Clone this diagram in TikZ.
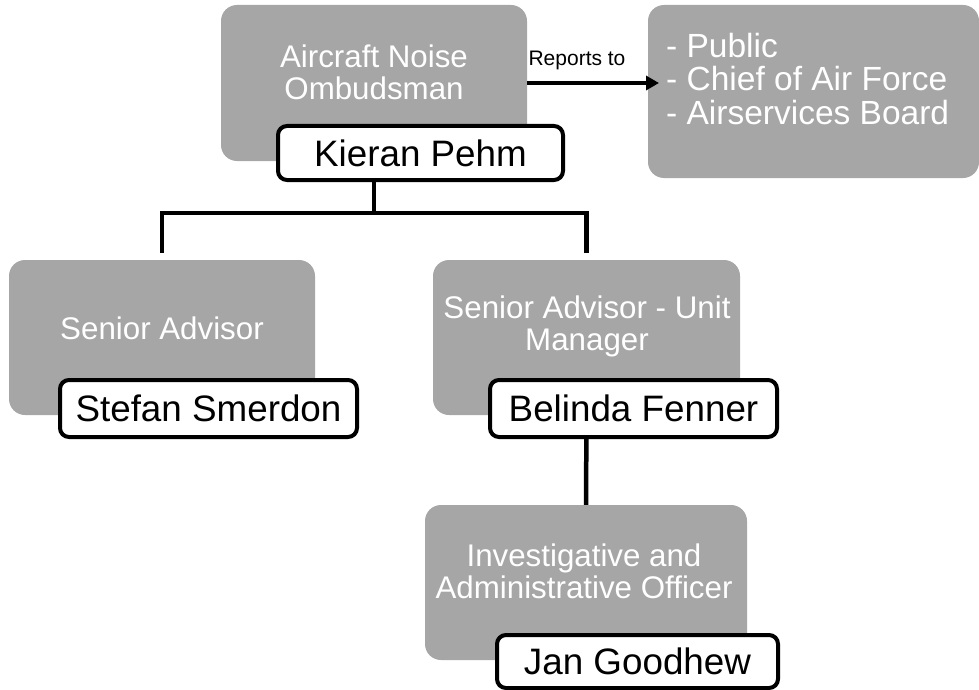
\documentclass[tikz,border=0pt]{standalone}
\usepackage{fontspec}
\setmainfont{Liberation Sans}
\usetikzlibrary{arrows.meta}
\definecolor{boxgray}{HTML}{A6A6A6}
\tikzset{
  gbox/.style={fill=boxgray, draw=none, rounded corners=16pt, inner sep=0pt},
  gtext/.style={text=white, align=center, font=\fontsize{31.3}{32}\selectfont, inner sep=0pt},
  namebox/.style={fill=white, draw=black, line width=4pt, rounded corners=9pt, inner sep=0pt, font=\fontsize{36.8}{38}\selectfont},
  tree/.style={line width=4.5pt, draw=black},
}
\begin{document}
\begin{tikzpicture}[x=1pt,y=-1pt]
\useasboundingbox (0,0) rectangle (979,690);
% gray boxes
\node[gbox, minimum width=306pt, minimum height=156pt] (omb) at (374,83) {};
\node[gbox, minimum width=331pt, minimum height=173pt] (rep) at (813.5,91.5) {};
\node[gbox, minimum width=306pt, minimum height=155pt] (sa) at (162,337.5) {};
\node[gbox, minimum width=307pt, minimum height=155pt] (um) at (586.5,337.5) {};
\node[gbox, minimum width=322pt, minimum height=155pt] (inv) at (586,582.5) {};
% tree connectors (under name boxes)
\coordinate (junc) at (374,213);
\draw[tree] (omb.south) -- (junc);
\draw[tree, shorten >=7pt] (junc) -| (sa.north);
\draw[tree, shorten >=7pt] (junc) -| (um.north);
\draw[tree] (um.south) -- (inv.north);
% reports to
\coordinate (tip) at (659,83);
\draw[line width=4pt, -{Triangle[length=13pt,width=14pt]}] (omb.east) -- (tip);
\node[inner sep=0pt, font=\fontsize{21}{22}\selectfont] (lbl) at (577,60) {Reports to};
% texts
\node[gtext] (ombt) at (374,72) {Aircraft Noise\\Ombudsman};
\node[gtext] (sat) at (162,328) {Senior Advisor};
\node[gtext] (umt) at (587,326) {Senior Advisor - Unit\\Manager};
\node[gtext] (invt) at (584,571) {Investigative and\\Administrative Officer};
\node[text=white, align=left, anchor=west, inner sep=0pt, font=\fontsize{33.5}{33.5}\selectfont] (rept) at (666,79) {- Public\\- Chief of Air Force\\- Airservices Board};
% name boxes
\node[namebox, minimum width=285pt, minimum height=54pt] (kp) at (420.5,153) {Kieran Pehm};
\node[namebox, minimum width=297pt, minimum height=57pt] (ss) at (208.5,408.5) {Stefan Smerdon};
\node[namebox, minimum width=287pt, minimum height=57pt] (bf) at (633.5,408.5) {Belinda Fenner};
\node[namebox, minimum width=281pt, minimum height=53pt] (jg) at (637.5,661.5) {Jan Goodhew};
\end{tikzpicture}
\end{document}
